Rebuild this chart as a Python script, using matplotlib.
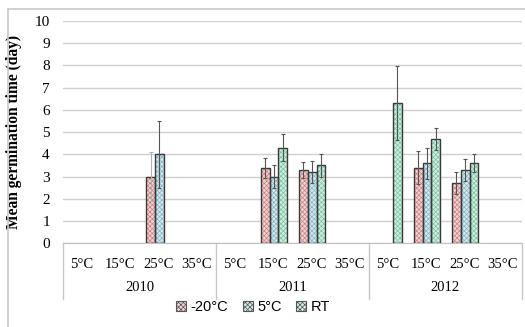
import numpy as np
import matplotlib
matplotlib.use("Agg")
import matplotlib.pyplot as plt
from matplotlib.lines import Line2D
from matplotlib.patches import Patch

nan = np.nan
years = ["2010", "2011", "2012"]
temps = ["5°C", "15°C", "25°C", "35°C"]
series_names = ["-20°C", "5°C", "RT"]

neg20 = [nan, nan, 3.0, nan, nan, 3.4, 3.3, nan, nan, 3.4, 2.7, nan]
neg20_err = [nan, nan, 1.1, nan, nan, 0.45, 0.35, nan, nan, 0.75, 0.5, nan]
c5 = [nan, nan, 4.0, nan, nan, 3.0, 3.2, nan, nan, 3.6, 3.3, nan]
c5_err = [nan, nan, 1.5, nan, nan, 0.5, 0.5, nan, nan, 0.7, 0.5, nan]
rt = [nan, nan, nan, nan, nan, 4.3, 3.5, nan, 6.3, 4.7, 3.6, nan]
rt_err = [nan, nan, nan, nan, nan, 0.6, 0.5, nan, 1.65, 0.5, 0.4, nan]

plt.rcParams['hatch.linewidth'] = 0.5

fig = plt.figure(figsize=(5.25, 3.27), dpi=100)
W, H = 525, 327
ax = fig.add_axes([63 / W, 1 - 243.4 / H, (521.7 - 63) / W, (243.4 - 20.7) / H])

ncat = len(years) * len(temps)
x = np.arange(ncat)
width = 0.23
offsets = [-0.21, 0.02, 0.25]
faces = ['#f0d2d2', '#d3e8ee', '#cdeede']
hatchc = ['#cc8080', '#86b4c2', '#7cc2a4']
vals = [neg20, c5, rt]
errs = [neg20_err, c5_err, rt_err]
HATCH = 'xxxxxxx'

for i in range(3):
    v = np.array(vals[i], dtype=float)
    e = np.array(errs[i], dtype=float)
    m = ~np.isnan(v)
    xs = x[m] + offsets[i]
    ax.bar(xs, v[m], width, color=faces[i], edgecolor=hatchc[i], hatch=HATCH,
           linewidth=0, zorder=2)
    ax.bar(xs, v[m], width, facecolor='none', edgecolor='#3a3a3a', linewidth=1.0, zorder=3)
    for xi, vi, ei in zip(xs, v[m], e[m]):
        col = '#b0b0b0' if (i == 0 and xi < 3.5) else '#555555'
        ax.errorbar(xi, vi, yerr=ei, fmt='none', ecolor=col, elinewidth=0.8,
                    capsize=1.5, capthick=0.8, zorder=4)

ax.set_xlim(-0.5, ncat - 0.5)
ax.set_ylim(0, 10)
ax.set_yticks(range(0, 11))
ax.yaxis.grid(True, color='#d0d0d0', linewidth=1)
ax.set_axisbelow(True)
for s in ['top', 'right', 'left']:
    ax.spines[s].set_visible(False)
ax.spines['bottom'].set_color('#c0c0c0')
ax.tick_params(axis='y', length=0, pad=9.5, labelsize=11)
ax.tick_params(axis='x', length=0)
for lab in ax.get_yticklabels():
    lab.set_fontfamily('Liberation Serif')
ax.set_xticks(x)
ax.set_xticklabels([])

trans = ax.get_xaxis_transform()
for k in range(ncat):
    ax.text(x[k], -0.095, temps[k % 4], transform=trans, ha='center', va='center',
            fontsize=10.5, family='Liberation Serif')
for j, yr in enumerate(years):
    ax.text(j * 4 + 1.5, -0.198, yr, transform=trans, ha='center', va='center',
            fontsize=10.5, family='Liberation Serif')
for b in [-0.5, 3.5, 7.5, 11.5]:
    ax.add_line(Line2D([b, b], [0, -0.25], transform=trans, color='#c8c8c8',
                       linewidth=1, clip_on=False))

ax.set_ylabel('Mean germination time (day)', fontsize=11.2, fontweight='bold',
              family='Liberation Serif')
ax.yaxis.set_label_coords(-0.089, 0.5)

handles = [Patch(facecolor=faces[i], edgecolor='#555555', hatch=HATCH, linewidth=0.8)
           for i in range(3)]
leg = fig.legend(handles, series_names, loc='center', bbox_to_anchor=(253 / W, 1 - 307 / H),
                 ncol=3, frameon=False, handlelength=0.7, handleheight=0.7,
                 handletextpad=0.3, columnspacing=1.0, prop={'family': 'Liberation Sans', 'size': 10.5})

# outer chart border
fig.add_artist(Line2D([8 / W, 8 / W], [0, 1 - 9 / H], transform=fig.transFigure,
                      color='#c8c8c8', linewidth=1.2))
fig.add_artist(Line2D([8 / W, 1], [1 - 9 / H, 1 - 9 / H], transform=fig.transFigure,
                      color='#c8c8c8', linewidth=1.2))

fig.savefig('out.png', dpi=100)
